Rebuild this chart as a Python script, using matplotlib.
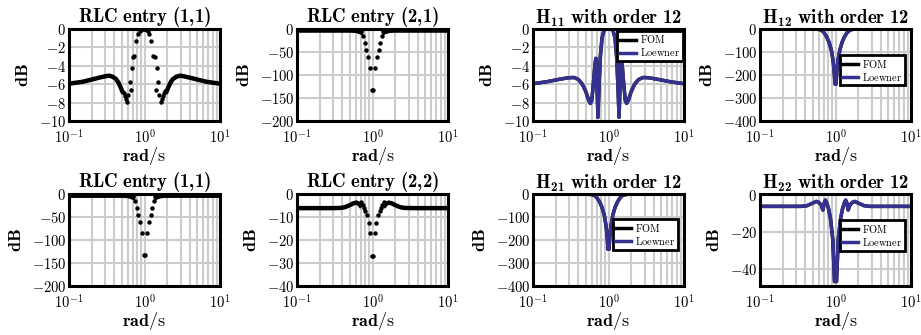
import numpy as np
import matplotlib
matplotlib.use("Agg")
import matplotlib.pyplot as plt
from matplotlib.ticker import FixedLocator, FixedFormatter, NullFormatter

plt.rcParams['mathtext.fontset'] = 'custom'
plt.rcParams['mathtext.rm'] = 'cmr10'
plt.rcParams['mathtext.bf'] = 'cmb10'
plt.rcParams['mathtext.it'] = 'cmmi10'
plt.rcParams['mathtext.fallback'] = 'cm'
plt.rcParams['font.family'] = 'serif'
plt.rcParams['font.serif'] = ['DejaVu Serif']

nan = np.nan
blue = '#35318f'

# RLC entry (1,1), top row: dense part (looks like a line) and sparse dots
rlc11_line_w = [0.1, 0.15, 0.2, 0.25, 0.3, 0.34, 0.38, 0.42, 0.45, 0.48, 0.51, nan,
                1.96, 2.08, 2.22, 2.38, 2.63, 2.94, 3.33, 4.0, 5.0, 6.67, 10.0]
rlc11_line_db = [-5.95, -5.75, -5.5, -5.3, -5.15, -5.08, -5.2, -5.45, -5.8, -6.3, -6.8, nan,
                 -6.8, -6.3, -5.8, -5.45, -5.2, -5.08, -5.15, -5.3, -5.5, -5.75, -5.95]
rlc11_dot_w = [0.53, 0.55, 0.57, 0.59, 0.61, 0.64, 0.656, 0.68, 0.71, 0.73, 0.77, 0.82, 0.86,
               0.89, 0.93, 0.97, 1.0, 1.03, 1.08, 1.12, 1.16, 1.22, 1.3, 1.37, 1.41,
               1.47, 1.52, 1.56, 1.64, 1.69, 1.75, 1.82, 1.89]
rlc11_dot_db = [-7.0, -7.3, -7.6, -7.9, -7.2, -5.8, -6.6, -4.2, -3.1, -2.9, -1.3, -0.6, -0.25,
                -0.1, 0.0, 0.0, 0.0, 0.0, -0.1, -0.25, -0.6, -1.3, -2.9, -3.1, -6.6,
                -4.2, -5.8, -7.2, -7.9, -7.6, -7.3, -7.0, -6.8]

# RLC entry (2,1) / bottom RLC entry (1,1)
rlc21_line_w = [0.1, 0.3, 0.5, 0.6, 0.66, 0.71, nan, 1.41, 1.52, 1.67, 2.0, 3.0, 10.0]
rlc21_line_db = [-3.5, -3.5, -3.5, -4.0, -6.0, -8.0, nan, -8.0, -6.0, -4.0, -3.5, -3.5, -3.5]
rlc21_dot_w = [0.75, 0.79, 0.83, 0.87, 0.92, 0.985, 1.015, 1.09, 1.15, 1.21, 1.27, 1.33]
rlc21_dot_db = [-16, -31, -45, -61, -85, -133, -133, -85, -61, -45, -31, -16]

# RLC entry (2,2)
rlc22_line_w = [0.1, 0.3, 0.38, 0.43, 0.5, 0.56, 0.61, 0.66, 0.69, nan,
                1.45, 1.52, 1.64, 1.79, 2.0, 2.33, 2.63, 3.5, 10.0]
rlc22_line_db = [-6.1, -6.1, -6.0, -5.7, -4.8, -4.0, -3.7, -4.2, -5.0, nan,
                 -5.0, -4.2, -3.7, -4.0, -4.8, -5.7, -6.0, -6.1, -6.1]
rlc22_dot_w = [0.70, 0.74, 0.77, 0.80, 0.85, 0.89, 0.93, 0.985,
               1.015, 1.075, 1.12, 1.18, 1.25, 1.3, 1.35, 1.43]
rlc22_dot_db = [-3.6, -4.6, -6.2, -7.4, -9.3, -12.6, -16.8, -27,
                -27, -16.8, -12.6, -9.3, -7.4, -6.2, -4.6, -3.6]

# H11 with order 12 (FOM and Loewner overlap)
h11_w = [0.1, 0.15, 0.2, 0.25, 0.3, 0.35, 0.4, 0.45, 0.5, 0.55, 0.575, 0.6, 0.63, 0.66,
         0.68, 0.70, 0.725, 0.75, 0.78, 0.82, 0.87, 0.93, 1.0, 1.08, 1.15, 1.22, 1.28,
         1.33, 1.38, 1.43, 1.47, 1.52, 1.59, 1.67, 1.74, 1.82, 2.0, 2.22, 2.5, 2.86,
         3.33, 4.0, 5.0, 6.67, 10.0]
h11_db = [-5.95, -5.75, -5.55, -5.4, -5.3, -5.28, -5.5, -6.0, -6.8, -7.8, -8.1, -7.8, -6.0,
          -4.0, -3.2, -5.5, -9.6, -6.0, -3.0, -1.0, -0.2, 0.0, 0.0, 0.0, -0.2, -1.0, -3.0,
          -6.0, -9.6, -5.5, -3.2, -4.0, -6.0, -7.8, -8.1, -7.8, -6.8, -6.0, -5.5, -5.28,
          -5.3, -5.4, -5.55, -5.75, -5.95]

# H12 / H21 with order 12
h12_w = [0.1, 0.5, 0.6, 0.65, 0.7, 0.76, 0.82, 0.88, 0.93, 0.96, 0.985,
         1.015, 1.04, 1.075, 1.14, 1.22, 1.32, 1.43, 1.54, 1.67, 2.0, 10.0]
h12_db = [0, 0, -2, -6, -15, -33, -58, -92, -140, -185, -240,
          -240, -185, -140, -92, -58, -33, -15, -6, -2, 0, 0]

# H22 with order 12
h22_w = [0.1, 0.35, 0.42, 0.5, 0.556, 0.6, 0.65, 0.68, 0.71, 0.735, 0.77, 0.81, 0.86,
         0.92, 0.97, 1.03, 1.087, 1.163, 1.235, 1.3, 1.36, 1.41, 1.47, 1.54, 1.67, 1.8,
         2.0, 2.38, 2.86, 10.0]
h22_db = [-6, -6, -5.6, -4.2, -3.3, -3.8, -5.5, -8, -4, -2.6, -4.5, -7.5, -13,
          -24, -47, -47, -24, -13, -7.5, -4.5, -2.6, -4, -8, -5.5, -3.8, -3.3,
          -4.2, -5.6, -6, -6]

xtick_vals = [0.1, 1, 10]
xtick_labels = [r'$10^{-1}$', r'$10^{0}$', r'$10^{1}$']

fig = plt.figure(figsize=(9.21, 3.35), dpi=100)
lefts = [0.0749, 0.3225, 0.5787, 0.8252]
bottoms = [0.639, 0.146]
W, H = 0.164, 0.2746


def setup(ax, title, yt, ylim):
    ax.set_xscale('log')
    ax.set_xlim(0.1, 10)
    ax.set_ylim(*ylim)
    ax.xaxis.set_major_locator(FixedLocator(xtick_vals))
    ax.xaxis.set_major_formatter(FixedFormatter(xtick_labels))
    ax.xaxis.set_minor_formatter(NullFormatter())
    ax.yaxis.set_major_locator(FixedLocator(yt))
    ax.yaxis.set_major_formatter(FixedFormatter([r'$%d$' % v for v in yt]))
    ax.tick_params(which='both', length=0, labelsize=10.5)
    ax.tick_params(axis='x', pad=5)
    ax.tick_params(axis='y', pad=2)
    ax.grid(True, which='both', axis='x', color='#cccccc', lw=1.5)
    ax.grid(True, which='major', axis='y', color='#cccccc', lw=1.5)
    ax.set_axisbelow(True)
    for s in ax.spines.values():
        s.set_linewidth(2.2)
        s.set_zorder(5)
    ax.set_title(title, fontsize=13.5, pad=3)
    ax.set_ylabel(r'$\mathbf{dB}$', fontsize=13, labelpad=5)
    ax.set_xlabel(r'$\mathbf{rad}/\mathrm{s}$', fontsize=13, labelpad=-0.5)


def rlc(ax, lw_, ldb, dw, ddb):
    ax.plot(lw_, ldb, '-', color='k', lw=3.2)
    ax.plot(dw, ddb, 'o', color='k', ms=3.2, mec='none')


def fom(ax, w, db, legpos):
    ax.plot(w, db, '-', color='k', lw=2.5, label=r'$\mathrm{FOM}$')
    ax.plot(w, db, '-', color=blue, lw=2.5, label=r'$\mathrm{Loewner}$')
    leg = ax.legend(loc=legpos[0], bbox_to_anchor=legpos[1], fontsize=7.5,
                    handlelength=1.5, handletextpad=0.4, borderpad=0.25,
                    labelspacing=0.1, borderaxespad=0, fancybox=False,
                    framealpha=1, edgecolor='k')
    leg.get_frame().set_linewidth(2)
    leg.set_zorder(6)


def mk(r, c):
    return fig.add_axes([lefts[c], bottoms[r], W, H])

ax = mk(0, 0)
setup(ax, r'$\mathbf{RLC\ entry\ (1{,}1)}$', [0, -2, -4, -6, -8, -10], (-10, 0))
rlc(ax, rlc11_line_w, rlc11_line_db, rlc11_dot_w, rlc11_dot_db)

ax = mk(0, 1)
setup(ax, r'$\mathbf{RLC\ entry\ (2{,}1)}$', [0, -50, -100, -150, -200], (-200, 0))
rlc(ax, rlc21_line_w, rlc21_line_db, rlc21_dot_w, rlc21_dot_db)

ax = mk(0, 2)
setup(ax, r'$\mathbf{H_{11}\ with\ order\ 12}$', [0, -2, -4, -6, -8, -10], (-10, 0))
fom(ax, h11_w, h11_db, ('upper right', (0.99, 0.98)))

ax = mk(0, 3)
setup(ax, r'$\mathbf{H_{12}\ with\ order\ 12}$', [0, -100, -200, -300, -400], (-400, 0))
fom(ax, h12_w, h12_db, ('center right', (0.96, 0.55)))

ax = mk(1, 0)
setup(ax, r'$\mathbf{RLC\ entry\ (1{,}1)}$', [0, -50, -100, -150, -200], (-200, 0))
rlc(ax, rlc21_line_w, rlc21_line_db, rlc21_dot_w, rlc21_dot_db)

ax = mk(1, 1)
setup(ax, r'$\mathbf{RLC\ entry\ (2{,}2)}$', [0, -10, -20, -30, -40], (-40, 0))
rlc(ax, rlc22_line_w, rlc22_line_db, rlc22_dot_w, rlc22_dot_db)

ax = mk(1, 2)
setup(ax, r'$\mathbf{H_{21}\ with\ order\ 12}$', [0, -100, -200, -300, -400], (-400, 0))
fom(ax, h12_w, h12_db, ('center right', (0.96, 0.56)))

ax = mk(1, 3)
setup(ax, r'$\mathbf{H_{22}\ with\ order\ 12}$', [0, -20, -40], (-49.5, 0.7))
fom(ax, h22_w, h22_db, ('center right', (0.96, 0.55)))

fig.savefig('out.png', dpi=100)
